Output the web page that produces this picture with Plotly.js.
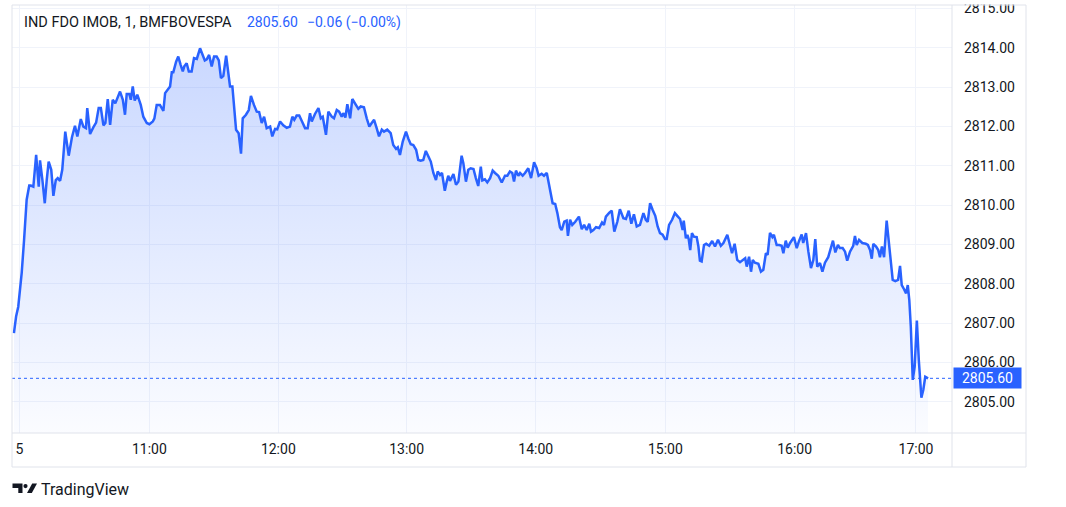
<!DOCTYPE html>
<html>
<head>
<meta charset="utf-8">
<script src="https://cdn.plot.ly/plotly-3.0.1.min.js"></script>
<style>
  html, body { margin: 0; padding: 0; background: #ffffff; }
  #chart { width: 1066px; height: 507px; }
</style>
</head>
<body>
<div id="chart"></div>
<script>
// ---- Data (minutes after 10:00, price) ----
const minutes = [
  -2.6, -1.6, -0.6, 1.0, 2.1, 3.3, 4.5, 5.2, 6.4, 7.7,
  8.9, 9.5, 10.6, 11.7, 12.6, 13.5, 14.7, 15.7, 16.8, 17.7,
  18.8, 19.8, 21.2, 22.8, 24.3, 25.7, 26.8, 28.4, 29.6, 30.8,
  31.4, 32.7, 34.2, 35.5, 36.7, 37.7, 38.9, 39.8, 40.9, 42.0,
  43.2, 44.4, 46.6, 47.9, 48.9, 49.7, 50.9, 51.6, 52.5, 53.4,
  54.6, 56.2, 57.4, 59.0, 60.2, 61.8, 62.5, 63.6, 65.1, 66.7,
  67.5, 69.0, 69.8, 70.6, 71.3, 72.6, 73.6, 74.7, 75.7, 76.4,
  77.5, 78.5, 79.8, 80.9, 82.2, 83.7, 84.8, 85.9, 86.8, 87.9,
  89.1, 90.2, 91.4, 92.4, 93.4, 94.5, 95.8, 96.8, 97.6, 98.7,
  100.4, 101.6, 102.7, 103.5, 105.0, 106.3, 107.3, 108.7, 110.0, 111.1,
  112.3, 113.4, 114.6, 116.2, 117.2, 118.5, 119.5, 120.8, 122.3, 123.9,
  125.4, 126.5, 127.4, 128.5, 129.7, 131.0, 132.4, 133.6, 134.7, 135.5,
  137.0, 138.6, 139.7, 140.6, 142.1, 143.2, 144.8, 145.8, 147.1, 148.2,
  149.4, 150.1, 151.1, 152.0, 153.3, 154.3, 155.6, 157.1, 158.2, 159.7,
  161.0, 162.2, 163.3, 164.4, 165.6, 166.7, 168.0, 169.0, 170.5, 172.1,
  173.3, 174.6, 175.4, 176.4, 177.7, 179.2, 180.3, 181.4, 182.6, 183.9,
  184.9, 186.0, 187.2, 188.4, 189.6, 190.7, 191.9, 193.1, 193.9, 195.0,
  195.9, 197.2, 198.1, 198.8, 199.6, 201.2, 202.4, 203.5, 205.0, 205.8,
  207.0, 208.1, 209.2, 210.5, 211.6, 212.7, 213.9, 214.6, 215.8, 216.9,
  218.2, 219.4, 220.5, 222.0, 223.6, 225.1, 226.2, 227.4, 228.5, 229.3,
  230.2, 231.3, 232.1, 233.3, 234.4, 235.9, 237.2, 238.6, 239.8, 240.7,
  242.1, 243.2, 244.5, 245.5, 247.2, 248.4, 249.4, 250.6, 251.4, 252.6,
  253.7, 254.3, 255.3, 256.3, 257.7, 259.4, 260.7, 261.8, 263.0, 264.2,
  265.0, 266.1, 267.3, 268.8, 270.1, 271.0, 271.9, 273.5, 274.6, 275.8,
  277.2, 278.4, 280.0, 281.2, 282.5, 283.7, 284.9, 286.2, 287.7, 289.3,
  290.4, 291.3, 292.4, 293.6, 294.8, 295.9, 297.0, 298.2, 299.3, 300.1,
  301.2, 302.6, 303.9, 305.0, 306.3, 307.5, 308.0, 309.0, 309.7, 310.3,
  311.0, 311.8, 312.7, 314.0, 314.8, 315.5, 316.3,
  317.4, 318.4, 319.8, 321.2, 322.5, 323.9, 325.2, 326.4, 328.2, 329.5,
  330.4, 331.6, 332.8, 334.1, 335.3, 336.5, 337.2, 338.3, 339.2, 340.0,
  341.0, 342.6, 343.8, 344.9, 346.1, 346.9, 348.0, 349.1, 349.8, 351.1,
  352.3, 353.4, 354.2, 355.3, 356.2, 357.3, 359.1, 360.4, 361.4, 362.7,
  363.4, 364.7, 365.8, 367.0, 368.1, 369.0, 369.9, 371.2, 372.3, 373.5,
  375.0, 376.1, 377.2, 378.3, 379.5, 380.4, 381.7, 382.8, 383.8, 385.1,
  386.6, 387.4, 388.2, 389.3, 390.8, 392.4, 393.4, 394.4, 395.2, 395.9,
  397.2, 398.2, 399.0, 399.9, 400.9, 402.1, 403.0, 404.0, 404.9, 406.1,
  407.4, 408.3, 409.1, 410.1, 411.1, 411.9, 412.6, 413.3, 414.2, 415.1,
  416.1, 417.0, 418.2, 419.1, 420.0, 421.3
];
const prices = [
  2806.75, 2807.17, 2807.42, 2808.28, 2809.12, 2810.14, 2810.50, 2810.50, 2810.47, 2811.28,
  2810.47, 2811.14, 2810.64, 2810.05, 2810.64, 2811.11, 2810.90, 2810.24, 2810.64, 2810.69,
  2810.62, 2810.90, 2811.87, 2811.26, 2811.73, 2812.02, 2811.75, 2812.19, 2812.00, 2811.96,
  2812.47, 2811.81, 2811.98, 2812.10, 2812.47, 2812.47, 2812.03, 2812.09, 2812.70, 2812.04,
  2812.68, 2812.59, 2812.89, 2812.68, 2812.30, 2812.83, 2812.83, 2812.68, 2813.02, 2812.66,
  2812.81, 2812.55, 2812.25, 2812.09, 2812.06, 2812.13, 2812.20, 2812.55, 2812.55, 2812.40,
  2812.85, 2812.98, 2813.02, 2813.38, 2813.38, 2813.65, 2813.78, 2813.57, 2813.40, 2813.53,
  2813.61, 2813.40, 2813.40, 2813.74, 2813.72, 2813.99, 2813.85, 2813.68, 2813.71, 2813.82,
  2813.53, 2813.78, 2813.78, 2813.68, 2813.23, 2813.29, 2813.80, 2813.40, 2813.02, 2813.02,
  2811.92, 2811.83, 2811.31, 2812.21, 2812.30, 2812.42, 2812.78, 2812.55, 2812.38, 2812.37,
  2812.09, 2812.25, 2811.96, 2812.00, 2811.75, 2811.94, 2811.93, 2812.13, 2812.03, 2811.97,
  2812.00, 2812.25, 2812.17, 2812.28, 2812.28, 2812.13, 2811.96, 2811.96, 2812.34, 2812.13,
  2812.32, 2812.47, 2812.21, 2812.25, 2811.79, 2812.38, 2812.25, 2812.21, 2812.42, 2812.38,
  2812.25, 2812.34, 2812.23, 2812.57, 2812.21, 2812.70, 2812.59, 2812.45, 2812.51, 2812.49,
  2812.21, 2812.00, 2812.09, 2812.17, 2811.96, 2811.75, 2811.92, 2811.87, 2811.92, 2811.83,
  2811.53, 2811.43, 2811.47, 2811.28, 2811.62, 2811.87, 2811.69, 2811.55, 2811.53, 2811.41,
  2811.15, 2811.13, 2811.15, 2811.38, 2811.24, 2811.11, 2810.82, 2810.64, 2810.86, 2810.77,
  2810.82, 2810.37, 2810.60, 2810.75, 2810.62, 2810.79, 2810.52, 2810.60, 2811.26, 2811.07,
  2810.60, 2810.90, 2810.94, 2810.92, 2810.69, 2810.49, 2810.98, 2810.63, 2810.66, 2810.58,
  2810.69, 2810.88, 2810.82, 2810.75, 2810.58, 2810.75, 2810.75, 2810.86, 2810.82, 2810.60,
  2810.88, 2810.75, 2810.82, 2810.75, 2810.82, 2810.94, 2810.69, 2811.09, 2810.94, 2810.75,
  2810.80, 2810.75, 2810.82, 2810.56, 2810.05, 2810.03, 2809.80, 2809.44, 2809.37, 2809.58,
  2809.61, 2809.22, 2809.63, 2809.50, 2809.58, 2809.71, 2809.39, 2809.50, 2809.37, 2809.53,
  2809.33, 2809.37, 2809.44, 2809.42, 2809.56, 2809.50, 2809.71, 2809.81, 2809.86, 2809.33,
  2809.58, 2809.90, 2809.67, 2809.65, 2809.86, 2809.53, 2809.77, 2809.46, 2809.50, 2809.80,
  2809.63, 2809.58, 2810.05, 2809.88, 2809.73, 2809.46, 2809.29, 2809.25, 2809.14, 2809.14,
  2809.50, 2809.63, 2809.80, 2809.73, 2809.65, 2809.37, 2809.61, 2809.16, 2809.25, 2809.14,
  2808.86, 2809.29, 2809.20, 2809.19, 2808.95, 2808.59, 2808.57,
  2808.99, 2809.02, 2808.97, 2809.09, 2808.95, 2809.12, 2808.97, 2809.04, 2809.25, 2808.95,
  2808.78, 2809.02, 2808.61, 2808.55, 2808.59, 2808.65, 2808.44, 2808.69, 2808.31, 2808.61,
  2808.54, 2808.51, 2808.31, 2808.36, 2808.78, 2808.74, 2809.30, 2809.19, 2809.25, 2808.99,
  2808.99, 2808.97, 2808.78, 2809.10, 2808.92, 2809.04, 2809.19, 2808.91, 2809.08, 2809.26,
  2809.04, 2809.29, 2808.82, 2808.40, 2808.61, 2809.14, 2808.44, 2808.53, 2808.31, 2808.54,
  2808.68, 2808.91, 2809.10, 2808.80, 2808.99, 2808.91, 2808.91, 2808.82, 2808.59, 2808.82,
  2808.97, 2809.22, 2808.99, 2809.12, 2809.04, 2809.02, 2808.99, 2808.86, 2808.64, 2809.02,
  2808.95, 2808.86, 2808.68, 2808.95, 2808.68, 2809.61, 2809.08, 2808.48, 2808.10, 2808.07,
  2808.10, 2808.46, 2807.97, 2807.87, 2807.76, 2807.97, 2807.59, 2806.91, 2805.56, 2805.90,
  2807.07, 2806.07, 2805.11, 2805.31, 2805.64, 2805.60
];
const xTickPositions = [0, 60.2, 120.0, 179.5, 239.4, 299.5, 359.4, 415.7];
const xTickLabels = ['5', '11:00', '12:00', '13:00', '14:00', '15:00', '16:00', '17:00'];
const yTickValues = [2805, 2806, 2807, 2808, 2809, 2810, 2811, 2812, 2813, 2814, 2815];
const lastPrice = 2805.60;
const symbolTitle = 'IND FDO IMOB, 1, BMFBOVESPA';
const lastPriceText = '2805.60';
const changeText = '\u22120.06 (\u22120.00%)';

// ---- Layout helpers (pixel -> paper) ----
const W = 1066, H = 507;
const PL = 12, PR = 952, PT = 5, PB = 433;
const px = x => (x - PL) / (PR - PL);
const py = y => (PB - y) / (PB - PT);

const BLUE = '#2962ff';
const TEXT = '#131722';
const BORDER = '#e0e3eb';
const GRID = '#f0f3fa';
const FONT = 'Roboto, "Open Sans", sans-serif';

const trace = {
  x: minutes,
  y: prices,
  type: 'scatter',
  mode: 'lines',
  line: { color: BLUE, width: 2.5 },
  fill: 'tozeroy',
  fillgradient: {
    type: 'vertical',
    start: 2804.2,
    stop: 2814.0,
    colorscale: [[0, 'rgba(41,98,255,0.02)'], [1, 'rgba(41,98,255,0.25)']]
  },
  hoverinfo: 'skip'
};

function hline(y, x0, x1) {
  return { type: 'line', xref: 'paper', yref: 'paper', x0: px(x0), x1: px(x1), y0: py(y), y1: py(y),
           line: { color: BORDER, width: 1 }, layer: 'above' };
}
function vline(x, y0, y1) {
  return { type: 'line', xref: 'paper', yref: 'paper', x0: px(x), x1: px(x), y0: py(y0), y1: py(y1),
           line: { color: BORDER, width: 1 }, layer: 'above' };
}

const shapes = [
  // white cover above the frame (clips the top tick label)
  { type: 'rect', xref: 'paper', yref: 'paper', x0: px(0), x1: px(1066), y0: py(4.5), y1: py(-10),
    fillcolor: '#ffffff', line: { width: 0 }, layer: 'above' },
  // last price dotted line
  { type: 'line', xref: 'paper', yref: 'y', x0: 0, x1: 1, y0: lastPrice, y1: lastPrice,
    line: { color: BLUE, width: 1, dash: 'dot' }, layer: 'above' },
  hline(5, 12, 1026), hline(467, 12, 1026), hline(433, 12, 1026),
  vline(12, 5, 467), vline(1026, 5, 467), vline(952, 5, 467),
  // TradingView logo icon
  { type: 'path', xref: 'paper', yref: 'paper', fillcolor: TEXT, line: { width: 0 }, layer: 'above',
    path: `M ${px(12.5)} ${py(483.5)} L ${px(22.5)} ${py(483.5)} L ${px(22.5)} ${py(493)} L ${px(18.3)} ${py(493)} L ${px(18.3)} ${py(488)} L ${px(12.5)} ${py(488)} Z` },
  { type: 'circle', xref: 'paper', yref: 'paper', fillcolor: TEXT, line: { width: 0 }, layer: 'above',
    x0: px(23.4), x1: px(27.6), y0: py(488.2), y1: py(484) },
  { type: 'path', xref: 'paper', yref: 'paper', fillcolor: TEXT, line: { width: 0 }, layer: 'above',
    path: `M ${px(27)} ${py(493)} L ${px(31.8)} ${py(493)} L ${px(37)} ${py(483.5)} L ${px(32.2)} ${py(483.5)} Z` }
];

const annotations = [
  { xref: 'paper', yref: 'paper', x: px(22), y: py(22), xanchor: 'left', yanchor: 'middle',
    text: symbolTitle, showarrow: false, font: { family: FONT, size: 14.5, color: TEXT } },
  { xref: 'paper', yref: 'paper', x: px(245), y: py(22), xanchor: 'left', yanchor: 'middle',
    text: lastPriceText, showarrow: false, font: { family: FONT, size: 14, color: BLUE } },
  { xref: 'paper', yref: 'paper', x: px(305), y: py(22), xanchor: 'left', yanchor: 'middle',
    text: changeText, showarrow: false, font: { family: FONT, size: 14, color: BLUE } },
  // last price badge
  { xref: 'paper', yref: 'y', x: px(953), y: lastPrice, xanchor: 'left', yanchor: 'middle',
    text: lastPriceText, showarrow: false, bgcolor: BLUE, width: 63, height: 16, borderpad: 2,
    font: { family: FONT, size: 14, color: '#ffffff' } },
  // TradingView wordmark
  { xref: 'paper', yref: 'paper', x: px(39), y: py(490), xanchor: 'left', yanchor: 'middle',
    text: 'TradingView', showarrow: false, font: { family: FONT, size: 16, color: TEXT } }
];

const layout = {
  width: W, height: H,
  margin: { l: PL, r: W - PR, t: PT, b: H - PB, pad: 0 },
  paper_bgcolor: '#ffffff',
  plot_bgcolor: '#ffffff',
  showlegend: false,
  hovermode: false,
  xaxis: {
    range: [-3.5, 432.4],
    tickmode: 'array', tickvals: xTickPositions, ticktext: xTickLabels,
    showgrid: true, gridcolor: GRID, gridwidth: 1,
    zeroline: false, showline: false, ticks: '',
    ticklabelstandoff: 6,
    tickfont: { family: FONT, size: 14, color: TEXT }
  },
  yaxis: {
    side: 'right',
    range: [2804.21, 2815.09],
    tickmode: 'array', tickvals: yTickValues,
    tickformat: '.2f',
    showgrid: true, gridcolor: GRID, gridwidth: 1,
    zeroline: false, showline: false, ticks: '',
    ticklabelstandoff: 11,
    tickfont: { family: FONT, size: 14, color: TEXT }
  },
  shapes: shapes,
  annotations: annotations
};

Plotly.newPlot('chart', [trace], layout, { staticPlot: true, displayModeBar: false });
</script>
</body>
</html>
